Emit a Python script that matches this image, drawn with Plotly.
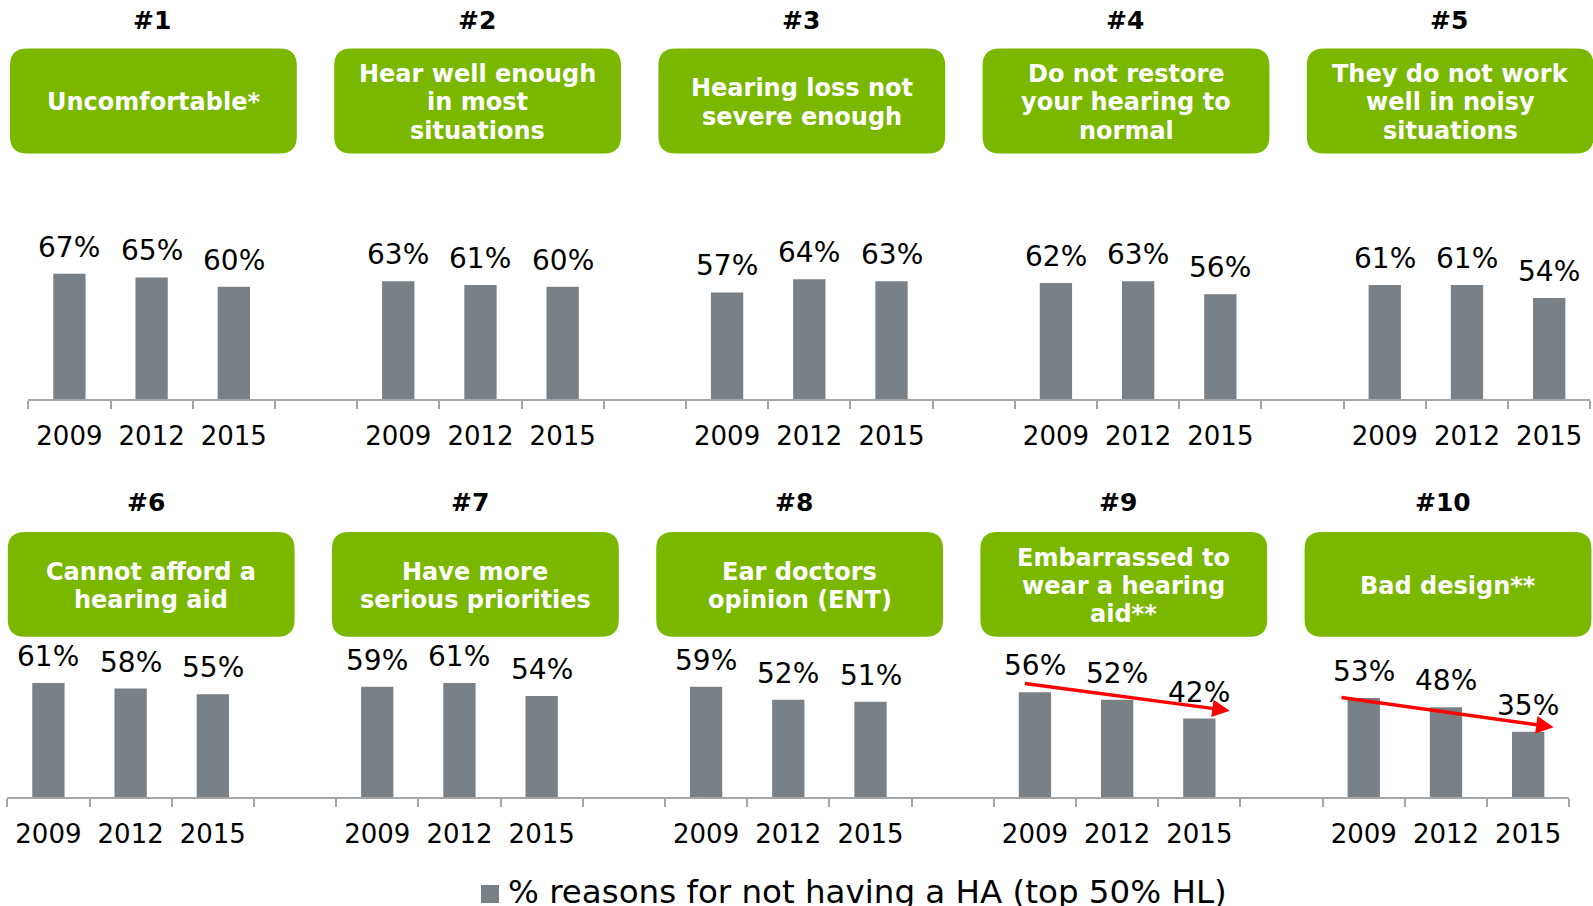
import plotly.graph_objects as go

# ---------------- data ----------------
ranks = ["#1", "#2", "#3", "#4", "#5", "#6", "#7", "#8", "#9", "#10"]
reasons = [
    ["Uncomfortable*"],
    ["Hear well enough", "in most", "situations"],
    ["Hearing loss not", "severe enough"],
    ["Do not restore", "your hearing to", "normal"],
    ["They do not work", "well in noisy", "situations"],
    ["Cannot afford a", "hearing aid"],
    ["Have more", "serious priorities"],
    ["Ear doctors", "opinion (ENT)"],
    ["Embarrassed to", "wear a hearing", "aid**"],
    ["Bad design**"],
]
years = ["2009", "2012", "2015"]
pct_2009 = [67, 63, 57, 62, 61, 61, 59, 59, 56, 53]
pct_2012 = [65, 61, 64, 63, 61, 58, 61, 52, 52, 48]
pct_2015 = [60, 60, 63, 56, 54, 55, 54, 51, 42, 35]
series_name = "% reasons for not having a HA (top 50% HL)"

# ---------------- style / geometry ----------------
W, H = 1593, 906
GREEN = "#7ab800"
BAR = "#798086"
AXIS = "#a6a6a6"
FONT = "DejaVu Sans"
SLOT = 82.21
PX_PER_PCT = 1.874


def px(x):
    return x / W


def py(y):
    return 1 - y / H


values = list(zip(pct_2009, pct_2012, pct_2015))
panels_per_row = 5
slots_per_panel = 4
n_slots = panels_per_row * slots_per_panel - 1

rows = [
    dict(xa="x", ya="y", left=28.3, axis_y=399.3, panels=range(0, 5),
         box_left=10.0, box_top=48.5, box_bot=153.4, head_y=20.3, head_dx=-1),
    dict(xa="x2", ya="y2", left=7.3, axis_y=797.3, panels=range(5, 10),
         box_left=7.8, box_top=532.0, box_bot=636.8, head_y=502.9, head_dx=-5.5),
]

fig = go.Figure()
annotations = []
shapes = []


def rrect(x0, y0, x1, y1, r):
    pts = [("M", [(x0 + r, y0)]), ("L", [(x1 - r, y0)]), ("Q", [(x1, y0), (x1, y0 + r)]),
           ("L", [(x1, y1 - r)]), ("Q", [(x1, y1), (x1 - r, y1)]), ("L", [(x0 + r, y1)]),
           ("Q", [(x0, y1), (x0, y1 - r)]), ("L", [(x0, y0 + r)]), ("Q", [(x0, y0), (x0 + r, y0)])]
    s = ""
    for cmd, ps in pts:
        s += cmd + " " + " ".join(f"{px(a):.5f},{py(b):.5f}" for a, b in ps) + " "
    return s + "Z"


BOX_W = 286.8
BOX_PITCH = 324.2
LINE_H = 28.4

for ri, row in enumerate(rows):
    xs, ys, tickvals, ticktext = [], [], [], []
    for k, p in enumerate(row["panels"]):
        for j, v in enumerate(values[p]):
            pos = k * slots_per_panel + j
            xs.append(pos)
            ys.append(v)
            tickvals.append(pos)
            ticktext.append(years[j])
            annotations.append(dict(
                x=pos, y=v, xref=row["xa"], yref=row["ya"], text=f"{v}%",
                showarrow=False, yanchor="bottom", yshift=8,
                font=dict(family=FONT, size=28, color="#000000")))
        # header + rounded green box
        bx0 = row["box_left"] + k * BOX_PITCH
        bx1 = bx0 + BOX_W
        bcx = (bx0 + bx1) / 2
        shapes.append(dict(type="path", xref="paper", yref="paper",
                           path=rrect(bx0, row["box_top"], bx1, row["box_bot"], 17),
                           fillcolor=GREEN, line=dict(width=0), layer="below"))
        annotations.append(dict(
            x=px(bcx + row["head_dx"]), y=py(row["head_y"]), xref="paper", yref="paper",
            text=ranks[p], showarrow=False, xanchor="center", yanchor="middle",
            font=dict(family=FONT, size=25, color="#000000", weight="bold")))
        lines = reasons[p]
        cy = (row["box_top"] + row["box_bot"]) / 2 + 1.5
        for li, line in enumerate(lines):
            ly = cy + (li - (len(lines) - 1) / 2) * LINE_H
            annotations.append(dict(
                x=px(bcx), y=py(ly), xref="paper", yref="paper", text=line,
                showarrow=False, xanchor="center", yanchor="middle",
                font=dict(family=FONT, size=24, color="#ffffff", weight="bold")))

    fig.add_trace(go.Bar(x=xs, y=ys, xaxis=row["xa"], yaxis=row["ya"],
                         marker=dict(color=BAR, line=dict(width=0)),
                         name=series_name, showlegend=False, hoverinfo="skip"))

    axname = "xaxis" if ri == 0 else "xaxis2"
    yname = "yaxis" if ri == 0 else "yaxis2"
    x0 = row["left"]
    x1 = x0 + n_slots * SLOT
    ytop = row["axis_y"] - 100 * PX_PER_PCT
    fig.layout[axname] = dict(
        domain=[px(x0), min(px(x1), 1.0)], range=[-0.5, n_slots - 0.5],
        anchor=row["ya"], tickmode="array", tickvals=tickvals, ticktext=ticktext,
        ticks="", showline=True, linecolor=AXIS, linewidth=2, showgrid=False,
        zeroline=False, ticklabelstandoff=12,
        tickfont=dict(family=FONT, size=26, color="#000000"),
        minor=dict(tickmode="linear", tick0=-0.5, dtick=1, ticks="outside",
                   ticklen=8, tickcolor=AXIS, tickwidth=1.5, showgrid=False),
        fixedrange=True)
    fig.layout[yname] = dict(
        domain=[py(row["axis_y"]), py(ytop)], range=[0, 100], anchor=row["xa"],
        visible=False, fixedrange=True)

# red trend arrows on #9 and #10 (bottom row)
arrows = [((11.86, 60.8), (14.37, 46.2)), ((15.71, 53.4), (18.31, 37.4))]
for (sx, sy), (tx, ty) in arrows:
    annotations.append(dict(
        x=tx, y=ty, ax=sx, ay=sy, xref="x2", yref="y2", axref="x2", ayref="y2",
        text="", showarrow=True, arrowhead=2, arrowsize=1, arrowwidth=3.5,
        arrowcolor="#ff0000", standoff=0))

# legend (square marker + label) at the bottom
shapes.append(dict(type="rect", xref="paper", yref="paper",
                   x0=px(481), x1=px(499), y0=py(903), y1=py(885),
                   fillcolor=BAR, line=dict(width=0)))
annotations.append(dict(
    x=px(506), y=py(892), xref="paper", yref="paper", text=series_name,
    showarrow=False, xanchor="left", yanchor="middle",
    font=dict(family=FONT, size=32.5, color="#000000")))

fig.update_layout(
    width=W, height=H, margin=dict(l=0, r=0, t=0, b=0, autoexpand=False),
    paper_bgcolor="#ffffff", plot_bgcolor="#ffffff",
    bargap=0.607, showlegend=False,
    annotations=annotations, shapes=shapes,
    font=dict(family=FONT),
)

fig.write_html("out.html", config={"displayModeBar": False},
               post_script="document.body.style.margin='0px';document.body.style.overflow='hidden';")
